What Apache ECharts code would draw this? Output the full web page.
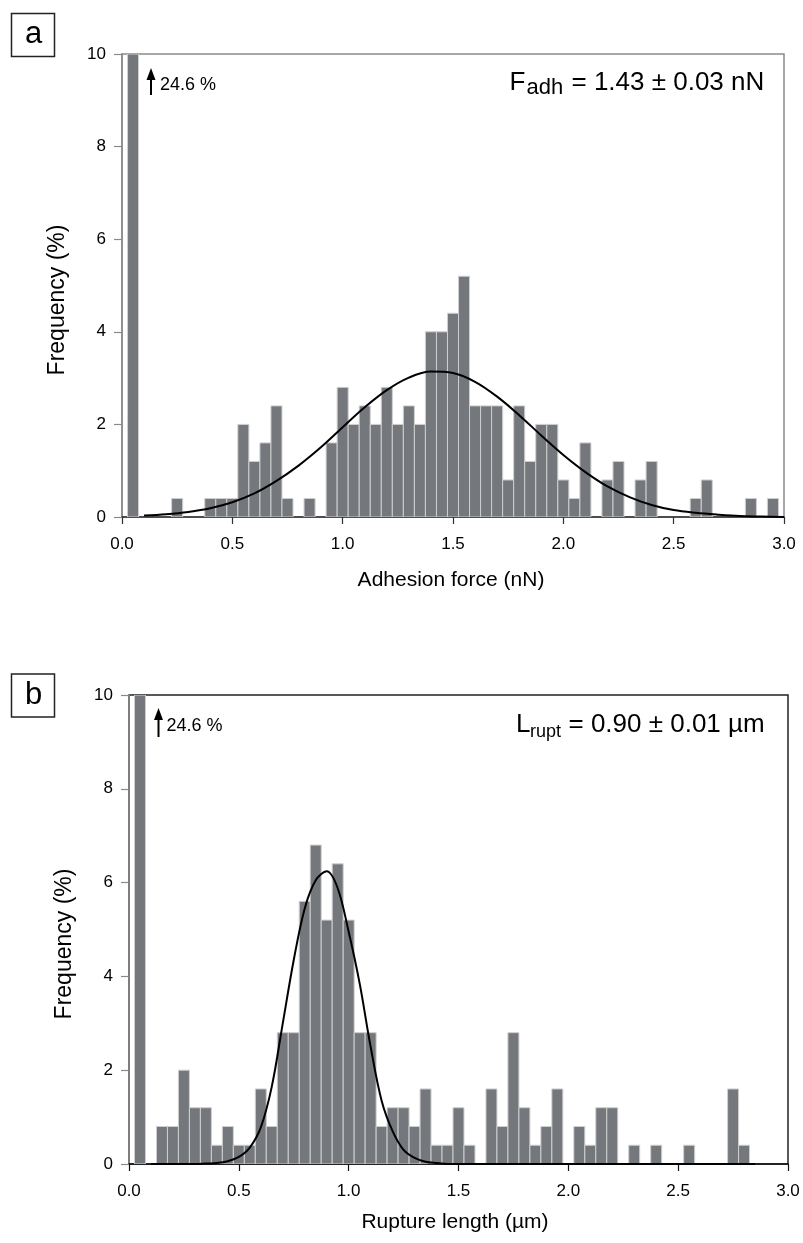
<!DOCTYPE html>
<html>
<head>
<meta charset="utf-8">
<script src="https://cdn.jsdelivr.net/npm/echarts@6/dist/echarts.min.js"></script>
<style>
html,body{margin:0;padding:0;background:#fff;}
#chart{width:803px;height:1243px;}
</style>
</head>
<body>
<div id="chart"></div>
<script>
// ---------- data ----------
const binCenters = [0.05,0.10,0.15,0.20,0.25,0.30,0.35,0.40,0.45,0.50,
  0.55,0.60,0.65,0.70,0.75,0.80,0.85,0.90,0.95,1.00,
  1.05,1.10,1.15,1.20,1.25,1.30,1.35,1.40,1.45,1.50,
  1.55,1.60,1.65,1.70,1.75,1.80,1.85,1.90,1.95,2.00,
  2.05,2.10,2.15,2.20,2.25,2.30,2.35,2.40,2.45,2.50,
  2.55,2.60,2.65,2.70,2.75,2.80,2.85,2.90,2.95];
const binWidth = 0.05;

const freqAdhesion = [24.6,0,0,0,0.4,0,0,0.4,0.4,0.4,
  2.0,1.2,1.6,2.4,0.4,0,0.4,0,1.6,2.8,
  2.0,2.4,2.0,2.8,2.0,2.4,2.0,4.0,4.0,4.4,
  5.2,2.4,2.4,2.4,0.8,2.4,1.2,2.0,2.0,0.8,
  0.4,1.6,0,0.8,1.2,0,0.8,1.2,0,0,
  0,0.4,0.8,0,0,0,0.4,0,0.4];

const freqRupture = [24.6,0,0.8,0.8,2.0,1.2,1.2,0.4,0.8,0.4,
  0.4,1.6,0.8,2.8,2.8,5.6,6.8,5.2,6.4,5.2,
  2.8,2.8,0.8,1.2,1.2,0.8,1.6,0.4,0.4,1.2,
  0.4,0,1.6,0.8,2.8,1.2,0.4,0.8,1.6,0,
  0.8,0.4,1.2,1.2,0,0.4,0,0.4,0,0,
  0.4,0,0,0,1.6,0.4,0,0,0];

const fitAdhesionX = [0.1,0.2,0.3,0.4,0.5,0.6,0.7,0.8,0.9,1.0,1.1,1.2,1.3,1.4,1.5,
  1.6,1.7,1.8,1.9,2.0,2.1,2.2,2.3,2.4,2.5,2.6,2.7,2.8,2.9,3.0];
const fitAdhesionY = [0.03,0.06,0.11,0.19,0.32,0.51,0.78,1.11,1.50,1.94,2.37,2.74,3.01,3.14,3.11,
  2.92,2.60,2.20,1.76,1.34,0.97,0.66,0.43,0.26,0.15,0.09,0.05,0.02,0.01,0.00];

const fitRuptureX = [0.10,0.20,0.30,0.35,0.40,0.45,0.50,0.55,0.60,0.65,0.70,0.75,0.80,0.85,0.90,
  0.95,1.00,1.05,1.10,1.15,1.20,1.25,1.30,1.35,1.40,1.45,1.50,1.75,2.00,2.25,2.50,2.85];
const fitRuptureY = [0.00,0.00,0.00,0.01,0.02,0.06,0.15,0.35,0.78,1.65,3.00,4.35,5.45,6.05,6.24,
  5.88,4.95,3.85,2.50,1.35,0.70,0.30,0.13,0.05,0.02,0.00,0.00,0.00,0.00,0.00,0.00,0.00];

const xTicks = [0, 0.5, 1.0, 1.5, 2.0, 2.5, 3.0];
const yTicks = [0, 2, 4, 6, 8, 10];

// ---------- helpers ----------
const FONT = "'Liberation Sans', Arial, sans-serif";
function pairs(xs, ys){ return xs.map((x,i)=>[x, ys[i]]); }

function renderBar(params, api){
  const x = api.value(0), v = api.value(1);
  if (!v) return null;
  const cs = params.coordSys;
  const pTop = api.coord([x - binWidth/2, v]);
  const pBot = api.coord([x + binWidth/2, 0]);
  const top = Math.max(pTop[1], cs.y);
  return {
    type: 'rect',
    shape: { x: pTop[0], y: top, width: pBot[0] - pTop[0], height: pBot[1] - top },
    style: { fill: '#74777b', stroke: '#cfcfcf', lineWidth: 1 }
  };
}

function xAxisCfg(gridIndex, lineColor){
  return {
    type: 'value', gridIndex, min: xTicks[0], max: xTicks[xTicks.length-1], interval: 0.5,
    axisLine: { show: true, onZero: false, lineStyle: { color: lineColor, width: 1.5 } },
    axisTick: { show: true, inside: false, length: 7, lineStyle: { color: lineColor, width: 1.2 } },
    axisLabel: { margin: 19, color: '#000', fontSize: 17, fontFamily: FONT,
      formatter: v => v.toFixed(1) },
    splitLine: { show: false }
  };
}
function yAxisCfg(gridIndex){
  return {
    type: 'value', gridIndex, min: yTicks[0], max: yTicks[yTicks.length-1], interval: 2,
    axisLine: { show: true, lineStyle: { color: '#8a8a8a', width: 1.5 } },
    axisTick: { show: true, inside: false, length: 8, lineStyle: { color: '#8a8a8a', width: 1.2 } },
    axisLabel: { margin: 16, color: '#000', fontSize: 17, fontFamily: FONT },
    splitLine: { show: false }
  };
}

function arrow(x, yTop, yBot){
  return {
    type: 'group',
    children: [
      { type: 'line', shape: { x1: x, y1: yBot, x2: x, y2: yTop + 8 }, style: { stroke: '#000', lineWidth: 2 } },
      { type: 'polygon', shape: { points: [[x - 4.5, yTop + 12], [x, yTop], [x + 4.5, yTop + 12]] }, style: { fill: '#000' } }
    ]
  };
}
function txt(text, x, y, size, opts){
  return Object.assign({
    type: 'text', x, y,
    style: { text, fontSize: size, fontFamily: FONT, fill: '#000',
      textAlign: (opts && opts.align) || 'left', textVerticalAlign: 'middle' }
  }, opts && opts.extra);
}

const chart = echarts.init(document.getElementById('chart'), null, { renderer: 'canvas' });

chart.setOption({
  animation: false,
  backgroundColor: '#fff',
  grid: [
    { left: 122, top: 54, width: 662, height: 463, show: true, borderColor: '#8a8a8a', borderWidth: 1.5, containLabel: false },
    { left: 129, top: 695, width: 659, height: 469, show: true, borderColor: '#222', borderWidth: 1.5, containLabel: false }
  ],
  xAxis: [ xAxisCfg(0, '#303030'), xAxisCfg(1, '#111') ],
  yAxis: [ yAxisCfg(0), yAxisCfg(1) ],
  series: [
    { type: 'custom', xAxisIndex: 0, yAxisIndex: 0, renderItem: renderBar, clip: true, z: 2,
      data: pairs(binCenters, freqAdhesion) },
    { type: 'line', xAxisIndex: 0, yAxisIndex: 0, smooth: 0.35, symbol: 'none', z: 5,
      lineStyle: { color: '#000', width: 2 }, data: pairs(fitAdhesionX, fitAdhesionY) },
    { type: 'custom', xAxisIndex: 1, yAxisIndex: 1, renderItem: renderBar, clip: true, z: 2,
      data: pairs(binCenters, freqRupture) },
    { type: 'line', xAxisIndex: 1, yAxisIndex: 1, smooth: 0.35, symbol: 'none', z: 5,
      lineStyle: { color: '#000', width: 2 }, data: pairs(fitRuptureX, fitRuptureY) }
  ],
  graphic: [
    // panel labels
    { type: 'rect', shape: { x: 11.5, y: 13.5, width: 43, height: 43 }, style: { fill: '#fff', stroke: '#222', lineWidth: 1.5 } },
    txt('a', 33.5, 34, 31, { align: 'center' }),
    { type: 'rect', shape: { x: 11.5, y: 674, width: 43, height: 43 }, style: { fill: '#fff', stroke: '#222', lineWidth: 1.5 } },
    txt('b', 33.5, 695, 31, { align: 'center' }),
    // arrows and 24.6 %
    arrow(151, 68, 95),
    txt('24.6 %', 160, 85, 18),
    arrow(158.5, 708, 737),
    txt('24.6 %', 166.5, 726, 18),
    // fit results
    txt('F', 509.5, 82.5, 26),
    txt('adh', 526.5, 87.5, 22),
    txt('= 1.43 \u00b1 0.03 nN', 571.5, 82.5, 26),
    txt('L', 516, 724.5, 26),
    txt('rupt', 530, 732.5, 18),
    txt('= 0.90 \u00b1 0.01 \u00b5m', 568.5, 724.5, 26),
    // axis titles
    txt('Adhesion force (nN)', 451, 580, 21, { align: 'center' }),
    txt('Rupture length (\u00b5m)', 455, 1222, 21, { align: 'center' }),
    txt('Frequency (%)', 58, 300, 23, { align: 'center', extra: { rotation: Math.PI / 2 } }),
    txt('Frequency (%)', 65, 944, 23, { align: 'center', extra: { rotation: Math.PI / 2 } })
  ]
});
</script>
</body>
</html>
